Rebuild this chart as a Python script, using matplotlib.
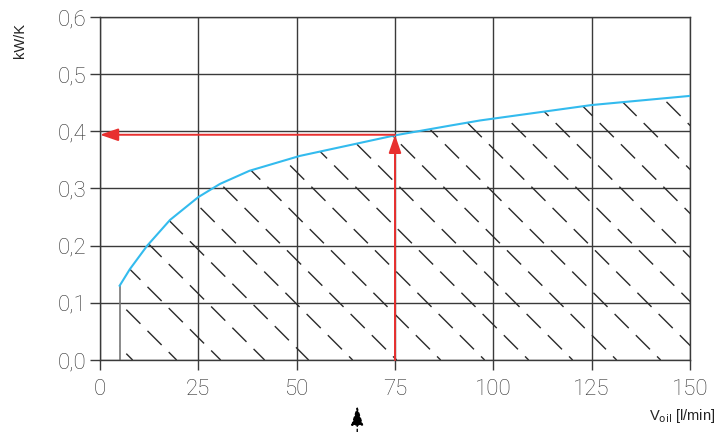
import matplotlib
matplotlib.use('Agg')
import matplotlib.pyplot as plt
import numpy as np
from matplotlib.patches import Polygon

# curve: oil flow [l/min] vs kW/K
flow = [5, 7.6, 12, 17.8, 25, 30.5, 38, 50.8, 63.6, 75, 89, 96.6, 125, 150]
kwk = [0.13, 0.159, 0.20, 0.245, 0.285, 0.308, 0.331, 0.357, 0.376, 0.393, 0.41, 0.419, 0.446, 0.462]

x_ticks = [0, 25, 50, 75, 100, 125, 150]
y_ticks = [0.0, 0.1, 0.2, 0.3, 0.4, 0.5, 0.6]
y_labels = ['0,0', '0,1', '0,2', '0,3', '0,4', '0,5', '0,6']

sel_flow = 75
sel_kwk = 0.394
marker_flow = 65.4

plt.rcParams['font.family'] = ['Roboto', 'DejaVu Sans']

fig = plt.figure(figsize=(7.26, 4.32), dpi=100)
ax = fig.add_axes([100/726, 72/432, 590/726, 343/432])
ax.set_xlim(0, 150)
ax.set_ylim(0, 0.6)

grid_col = '#3a3a3a'
for s in ax.spines.values():
    s.set_color(grid_col)
    s.set_linewidth(1)
ax.grid(True, color=grid_col, linewidth=1)
ax.set_axisbelow(True)
ax.tick_params(direction='out', length=7, width=1, color=grid_col, labelcolor='#333333', labelsize=16)
ax.tick_params(axis='x', pad=7)
ax.tick_params(axis='y', pad=3)
ax.set_xticks(x_ticks)
ax.set_xticklabels([str(v) for v in x_ticks], fontweight='light')
ax.set_yticks(y_ticks)
ax.set_yticklabels(y_labels, fontweight='light')

# hatched area under the curve
poly = Polygon([(flow[0], 0)] + list(zip(flow, kwk)) + [(flow[-1], 0)], closed=True, fc='none', ec='none')
ax.add_patch(poly)
slope = (0.6 / 343) / (150 / 590)
spacing = 44 * 150 / 590
for c in np.arange(86.6 - 7 * spacing, 240, spacing):
    ln, = ax.plot([c - 0.6 / slope, c], [0.6, 0], color='#2a2a2a', lw=1, dashes=(14.4, 7.2))
    ln.set_clip_path(poly)

ax.plot([flow[0], flow[0]], [0, kwk[0]], color='#777777', lw=1.2)
ax.plot(flow, kwk, color='#33bbee', lw=1.5, zorder=5)

# red reading arrows
red = '#e8302f'
ax.annotate('', xy=(sel_flow, sel_kwk), xytext=(sel_flow, 0),
            arrowprops=dict(arrowstyle='-|>,head_length=1.1,head_width=0.38', color=red, lw=1.4,
                            shrinkA=0, shrinkB=0, mutation_scale=10), zorder=6)
ax.annotate('', xy=(0, sel_kwk), xytext=(sel_flow, sel_kwk),
            arrowprops=dict(arrowstyle='-|>,head_length=1.1,head_width=0.38', color=red, lw=1.4,
                            shrinkA=0, shrinkB=0, mutation_scale=10), zorder=6)

# black marker arrow under the x axis
ax.annotate('', xy=(marker_flow, 26), xycoords=('data', 'figure pixels'),
            xytext=(marker_flow, 0), textcoords=('data', 'figure pixels'),
            arrowprops=dict(arrowstyle='-|>,head_length=1.2,head_width=0.38', color='black', lw=1,
                            linestyle=(0, (2, 2)), shrinkA=0, shrinkB=0, mutation_scale=10),
            annotation_clip=False)

fig.text(20 / 726, 1 - 41 / 432, 'kW/K', rotation=90, ha='center', va='center',
         fontsize=10.5, color='#222222', family=['Liberation Sans', 'DejaVu Sans'])
fig.text(715 / 726, 1 - 416 / 432, r'V$_{\mathrm{oil}}$ [l/min]', ha='right', va='center',
         fontsize=10.5, color='#222222', family=['Liberation Sans', 'DejaVu Sans'])

fig.savefig('out.png', dpi=100)
